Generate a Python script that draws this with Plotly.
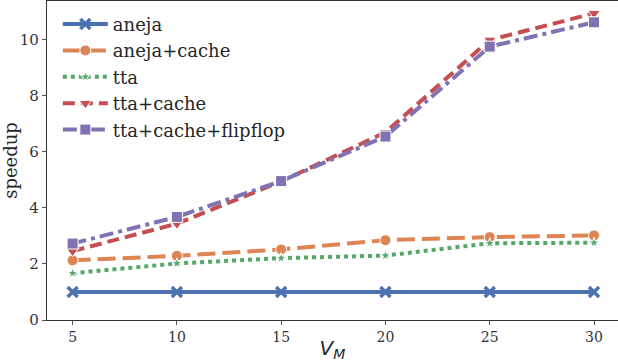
import plotly.graph_objects as go

x_vals = [5, 10, 15, 20, 25, 30]
aneja = [1.0, 1.0, 1.0, 1.0, 1.0, 1.0]
aneja_cache = [2.13, 2.29, 2.52, 2.85, 2.96, 3.02]
tta = [1.67, 2.02, 2.21, 2.30, 2.74, 2.76]
tta_cache = [2.46, 3.44, 4.95, 6.70, 10.0, 10.95]
tta_cache_ff = [2.73, 3.68, 4.96, 6.55, 9.76, 10.63]
y_ticks = [0, 2, 4, 6, 8, 10]

series = [
    ("aneja", aneja, "#4C72B0", "solid", "x-thin", 10),
    ("aneja+cache", aneja_cache, "#DD8452", "18px,7px", "circle", 11),
    ("tta", tta, "#55A868", "4px,4px", "star", 8),
    ("tta+cache", tta_cache, "#C44E52", "12px,6px", "triangle-down", 11),
    ("tta+cache+flipflop", tta_cache_ff, "#8172B3", "14px,5px,4px,5px", "square", 11),
]

SERIF = "DejaVu Serif"

fig = go.Figure()
for name, ys, color, dash, sym, ms in series:
    marker = dict(symbol=sym, size=ms, color=color, line=dict(color="white", width=1))
    if sym == "x-thin":
        marker = dict(symbol="x-thin", size=ms, color=color, line=dict(color=color, width=3.5))
    fig.add_trace(go.Scatter(
        x=x_vals, y=ys, name=f"<span style='font-family:DejaVu Serif'>{name}</span>",
        mode="lines+markers",
        line=dict(color=color, width=4, dash=dash),
        marker=marker,
    ))

fig.update_layout(
    width=618, height=362,
    margin=dict(l=47, r=0, t=1, b=42),
    plot_bgcolor="white", paper_bgcolor="white",
    font=dict(family=SERIF, size=15, color="#333333"),
    showlegend=True,
    legend=dict(x=0.019, y=0.985, xanchor="left", yanchor="top", itemwidth=45,
                bgcolor="rgba(255,255,255,0)", font=dict(size=18, family=SERIF, color="#262626")),
)
fig.update_xaxes(
    range=[3.773, 31.15], tickvals=x_vals, ticks="outside", ticklen=4, tickcolor="#555555",
    showline=True, linecolor="#333333", linewidth=1.3, mirror=True, showgrid=False, zeroline=False,
    title=dict(text="<i>V</i><sub><i>M</i></sub>", font=dict(family="DejaVu Sans", size=20, color="#262626"), standoff=0),
    tickfont=dict(size=14),
)
fig.update_yaxes(
    range=[0, 11.39], tickvals=y_ticks, ticks="outside", ticklen=4, tickcolor="#555555",
    showline=True, linecolor="#333333", linewidth=1.3, mirror=True, showgrid=False, zeroline=False,
    title=dict(text="speedup", font=dict(family=SERIF, size=18, color="#262626"), standoff=4),
    tickfont=dict(size=15),
)
fig.write_html("out.html")
